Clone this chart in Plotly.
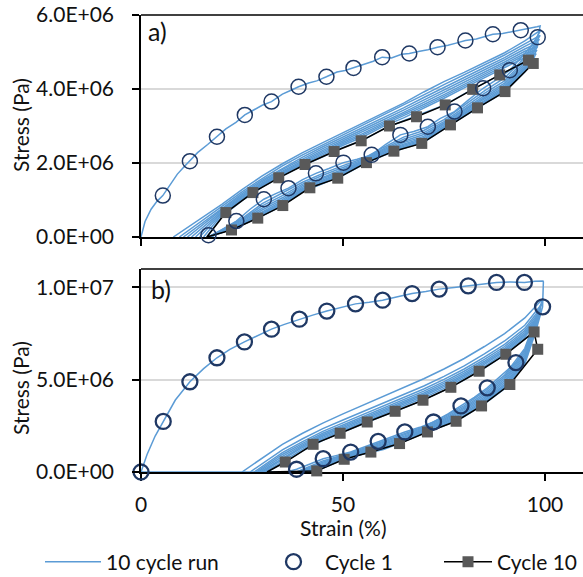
import plotly.graph_objects as go

# ---------------- data (strain in %, stress in MPa) ----------------
# Panel a) cycle 1 (continuous trace of the 10 cycle run)
A_C1_LOAD_STRAIN = [0, 1, 2.5, 4, 5.4, 7, 9, 10.5, 12.1, 14, 16.5, 18.8, 21, 23.5, 25.7, 28, 30, 32.3, 35, 37,
                    39, 41.5, 43.5, 45.9, 48.5, 50.5, 52.6, 55, 57.5, 59.7, 62, 64.5, 66.4, 69, 71, 73.4, 76, 78,
                    80.3, 83, 85, 87.1, 89.5, 92, 94, 96, 98, 98.8]
A_C1_LOAD_STRESS = [0, 0.42, 0.75, 0.97, 1.12, 1.38, 1.7, 1.88, 2.05, 2.28, 2.5, 2.71, 2.92, 3.1, 3.3, 3.44, 3.56,
                    3.66, 3.86, 3.96, 4.06, 4.16, 4.22, 4.33, 4.46, 4.5, 4.57, 4.66, 4.75, 4.86, 4.84, 4.94, 4.96,
                    5.02, 5.06, 5.13, 5.18, 5.24, 5.31, 5.35, 5.42, 5.48, 5.5, 5.55, 5.59, 5.62, 5.68, 5.7]
A_C1_UNLOAD_STRAIN = [98.8, 98.2, 96.5, 94, 91.3, 88, 84.7, 81, 77.6, 74, 71, 67.5, 64.2, 60.5, 57.1, 53.5, 50.1,
                      46.5, 43.3, 40, 36.5, 33.5, 30.4, 27, 23.6, 20, 16.7]
A_C1_UNLOAD_STRESS = [5.7, 5.4, 5.15, 4.85, 4.51, 4.25, 4.02, 3.7, 3.39, 3.2, 2.98, 2.85, 2.76, 2.5, 2.22, 2.1, 2.01,
                      1.85, 1.72, 1.55, 1.32, 1.18, 1.02, 0.75, 0.43, 0.2, 0.0]

# Panel a) cycles 2..10
A_START = [8.0, 9.5, 10.5, 11.5, 12.5, 13.5, 14.5, 15.5, 16.3]
A_LOAD_GRID = [20, 25, 30, 35, 40, 45, 50, 55, 60, 65, 70, 75, 80, 85, 90, 95]
A_LOAD = [
    [0.88, 1.28, 1.65, 1.98, 2.28, 2.55, 2.82, 3.08, 3.35, 3.62, 3.92, 4.20, 4.45, 4.72, 4.98, 5.30],
    [0.82, 1.22, 1.58, 1.92, 2.22, 2.49, 2.76, 3.02, 3.28, 3.55, 3.84, 4.12, 4.38, 4.65, 4.92, 5.22],
    [0.78, 1.17, 1.54, 1.86, 2.16, 2.44, 2.70, 2.96, 3.22, 3.49, 3.77, 4.05, 4.31, 4.58, 4.85, 5.15],
    [0.74, 1.13, 1.50, 1.82, 2.11, 2.39, 2.65, 2.90, 3.17, 3.43, 3.70, 3.98, 4.25, 4.52, 4.79, 5.08],
    [0.70, 1.10, 1.46, 1.78, 2.07, 2.34, 2.60, 2.85, 3.12, 3.37, 3.64, 3.91, 4.19, 4.46, 4.73, 5.02],
    [0.67, 1.07, 1.43, 1.75, 2.03, 2.30, 2.56, 2.80, 3.07, 3.32, 3.58, 3.85, 4.13, 4.41, 4.68, 4.96],
    [0.64, 1.04, 1.40, 1.72, 2.00, 2.26, 2.52, 2.76, 3.03, 3.27, 3.53, 3.80, 4.08, 4.36, 4.63, 4.91],
    [0.61, 1.01, 1.38, 1.69, 1.97, 2.22, 2.48, 2.71, 2.99, 3.22, 3.48, 3.75, 4.03, 4.31, 4.58, 4.85],
    [0.55, 0.98, 1.35, 1.65, 1.93, 2.17, 2.42, 2.62, 2.92, 3.14, 3.34, 3.56, 3.87, 4.17, 4.45, 4.73],
]
A_PEAK_STRAIN = [99.0, 98.8, 98.6, 98.4, 98.2, 98.0, 97.8, 97.5, 97.1]
A_PEAK_STRESS = [5.6, 5.45, 5.35, 5.25, 5.15, 5.05, 4.95, 4.88, 4.8]
A_UNLOAD_GRID = [95, 90, 85, 80, 75, 70, 65, 60, 55, 50, 45, 40, 35, 30, 25, 20]
A_UNLOAD = [
    [4.85, 4.30, 3.95, 3.55, 3.17, 2.88, 2.70, 2.42, 2.12, 1.93, 1.72, 1.48, 1.18, 0.90, 0.50, 0.20],
    [4.78, 4.22, 3.88, 3.50, 3.12, 2.82, 2.64, 2.38, 2.09, 1.88, 1.67, 1.43, 1.12, 0.84, 0.47, 0.18],
    [4.72, 4.16, 3.82, 3.46, 3.08, 2.77, 2.59, 2.35, 2.06, 1.83, 1.62, 1.39, 1.06, 0.78, 0.44, 0.17],
    [4.66, 4.11, 3.77, 3.42, 3.05, 2.72, 2.55, 2.32, 2.04, 1.79, 1.58, 1.35, 1.01, 0.73, 0.41, 0.16],
    [4.61, 4.06, 3.73, 3.38, 3.02, 2.68, 2.51, 2.29, 2.02, 1.76, 1.54, 1.31, 0.97, 0.68, 0.38, 0.15],
    [4.57, 4.02, 3.69, 3.35, 2.99, 2.64, 2.48, 2.26, 2.00, 1.73, 1.51, 1.28, 0.93, 0.64, 0.36, 0.14],
    [4.53, 3.98, 3.66, 3.32, 2.97, 2.61, 2.45, 2.24, 1.98, 1.70, 1.48, 1.25, 0.90, 0.61, 0.34, 0.13],
    [4.49, 3.95, 3.63, 3.29, 2.94, 2.58, 2.42, 2.22, 1.97, 1.68, 1.46, 1.23, 0.87, 0.59, 0.33, 0.12],
    [4.46, 3.92, 3.60, 3.27, 2.92, 2.56, 2.40, 2.20, 1.96, 1.67, 1.45, 1.22, 0.85, 0.57, 0.32, 0.12],
]
A_END = [17.0, 17.5, 17.0, 16.5, 17.0, 16.8, 16.5, 17.0, 16.3]

# Panel a) markers
A_CIRC_STRAIN = [5.4, 12.1, 18.8, 25.7, 32.3, 39.0, 45.9, 52.6, 59.7, 66.4, 73.4, 80.3, 87.1, 94.0, 98.2,
                 91.3, 84.7, 77.6, 71.0, 64.2, 57.1, 50.1, 43.3, 36.5, 30.4, 23.6, 16.7]
A_CIRC_STRESS = [1.12, 2.05, 2.71, 3.30, 3.66, 4.06, 4.33, 4.57, 4.86, 4.96, 5.13, 5.31, 5.48, 5.59, 5.40,
                 4.51, 4.02, 3.39, 2.98, 2.76, 2.22, 2.01, 1.72, 1.32, 1.02, 0.43, 0.05]
A_SQ_STRAIN = [21.0, 27.7, 34.1, 40.6, 47.8, 54.5, 61.5, 68.2, 75.3, 82.1, 88.8, 95.9, 97.1,
               90.1, 83.3, 76.6, 69.5, 62.6, 55.8, 48.7, 41.8, 35.1, 28.9, 22.4]
A_SQ_STRESS = [0.66, 1.20, 1.60, 1.96, 2.31, 2.60, 3.00, 3.25, 3.57, 3.99, 4.38, 4.78, 4.69,
               3.93, 3.49, 3.03, 2.53, 2.32, 2.01, 1.59, 1.33, 0.85, 0.51, 0.19]
A_C10_ORIGIN = 16.3

# Panel b) cycle 1
B_C1_LOAD_STRAIN = [0, 1.5, 3.5, 5.5, 8.5, 12.1, 15.5, 18.8, 22, 25.6, 29, 32.3, 35.5, 39.2, 42.5, 46, 49.5,
                    53.1, 56.5, 59.8, 63.5, 67.1, 70.5, 73.8, 77.5, 81, 84.5, 88, 91.5, 94.9, 97.5, 99.5]
B_C1_LOAD_STRESS = [0, 0.95, 1.95, 2.74, 3.9, 4.89, 5.6, 6.19, 6.65, 7.05, 7.42, 7.74, 8.0, 8.28, 8.5, 8.72,
                    8.9, 9.11, 9.2, 9.31, 9.5, 9.67, 9.78, 9.91, 10.0, 10.09, 10.18, 10.27, 10.3, 10.27, 10.33, 10.35]
B_C1_UNLOAD_STRAIN = [99.6, 99.4, 97.5, 95, 92.8, 89, 85.7, 82.5, 79.2, 76, 72.4, 69, 65.3, 62, 58.7, 55.5,
                      51.9, 48.5, 45.1, 42, 38.5, 36, 0]
B_C1_UNLOAD_STRESS = [10.3, 8.95, 7.45, 6.6, 5.93, 5.2, 4.56, 4.05, 3.58, 3.15, 2.71, 2.42, 2.17, 1.9, 1.66,
                      1.38, 1.08, 0.9, 0.72, 0.45, 0.15, 0.0, 0.0]

# Panel b) cycles 2..10
B_START = [25.0, 27.0, 28.0, 28.5, 29.0, 29.5, 30.0, 30.5, 31.2]
B_LOAD_GRID = [35, 40, 45, 50, 55, 60, 65, 70, 75, 80, 85, 90, 95]
B_LOAD = [
    [1.50, 2.10, 2.65, 3.15, 3.62, 4.08, 4.55, 5.05, 5.58, 6.15, 6.80, 7.50, 8.35],
    [1.20, 1.80, 2.35, 2.82, 3.28, 3.72, 4.18, 4.66, 5.18, 5.75, 6.40, 7.10, 7.95],
    [1.05, 1.65, 2.20, 2.66, 3.12, 3.56, 4.02, 4.50, 5.02, 5.58, 6.22, 6.92, 7.78],
    [0.95, 1.55, 2.10, 2.55, 3.01, 3.45, 3.90, 4.38, 4.90, 5.46, 6.10, 6.80, 7.66],
    [0.85, 1.47, 2.02, 2.47, 2.92, 3.36, 3.81, 4.28, 4.80, 5.36, 6.00, 6.70, 7.56],
    [0.75, 1.40, 1.95, 2.40, 2.85, 3.28, 3.73, 4.20, 4.71, 5.27, 5.91, 6.61, 7.47],
    [0.65, 1.33, 1.88, 2.33, 2.78, 3.21, 3.66, 4.12, 4.63, 5.19, 5.83, 6.53, 7.39],
    [0.55, 1.24, 1.80, 2.25, 2.70, 3.13, 3.56, 4.02, 4.53, 5.10, 5.73, 6.44, 7.30],
    [0.46, 1.15, 1.72, 2.16, 2.62, 3.05, 3.47, 3.91, 4.42, 5.00, 5.63, 6.34, 7.20],
]
B_PEAK_STRAIN = [99.5, 99.2, 99.0, 98.9, 98.8, 98.6, 98.5, 98.4, 98.0]
B_PEAK_STRESS = [9.4, 9.1, 8.9, 8.75, 8.6, 8.5, 8.4, 8.3, 7.8]
B_UNLOAD_GRID = [95, 90, 85, 80, 75, 70, 65, 60, 55, 50, 45]
B_UNLOAD = [
    [6.70, 5.25, 4.35, 3.60, 3.00, 2.45, 2.06, 1.66, 1.27, 0.92, 0.60],
    [6.55, 5.15, 4.25, 3.52, 2.93, 2.40, 2.00, 1.60, 1.22, 0.88, 0.53],
    [6.45, 5.05, 4.15, 3.45, 2.86, 2.35, 1.93, 1.54, 1.17, 0.84, 0.47],
    [6.35, 4.95, 4.06, 3.38, 2.80, 2.30, 1.87, 1.48, 1.12, 0.80, 0.42],
    [6.25, 4.85, 3.98, 3.30, 2.74, 2.25, 1.81, 1.42, 1.08, 0.77, 0.37],
    [6.15, 4.75, 3.90, 3.22, 2.68, 2.20, 1.75, 1.36, 1.05, 0.74, 0.32],
    [6.05, 4.67, 3.83, 3.15, 2.62, 2.16, 1.70, 1.30, 1.02, 0.71, 0.28],
    [5.95, 4.60, 3.76, 3.07, 2.56, 2.13, 1.66, 1.26, 0.99, 0.69, 0.24],
    [5.85, 4.52, 3.69, 3.00, 2.50, 2.10, 1.63, 1.22, 0.97, 0.67, 0.20],
]
B_END = [38.5, 39.0, 39.5, 40.0, 40.5, 41.5, 42.0, 42.5, 43.0]

# Panel b) markers
B_CIRC_STRAIN = [0, 5.5, 12.1, 18.8, 25.6, 32.3, 39.2, 46.0, 53.1, 59.8, 67.1, 73.8, 81.0, 88.0, 94.9, 99.4,
                 92.8, 85.7, 79.2, 72.4, 65.3, 58.7, 51.9, 45.1, 38.5]
B_CIRC_STRESS = [0, 2.74, 4.89, 6.19, 7.05, 7.74, 8.28, 8.72, 9.11, 9.31, 9.67, 9.91, 10.09, 10.27, 10.27, 8.95,
                 5.93, 4.56, 3.58, 2.71, 2.17, 1.66, 1.08, 0.72, 0.15]
B_SQ_STRAIN = [35.7, 42.6, 49.3, 56.0, 62.9, 69.8, 76.7, 83.7, 90.3, 97.3,
               98.2, 91.3, 84.3, 78.0, 70.9, 64.0, 56.9, 50.3, 43.5]
B_SQ_STRESS = [0.54, 1.50, 2.10, 2.71, 3.29, 3.89, 4.59, 5.46, 6.38, 7.59,
               6.65, 4.74, 3.58, 2.75, 2.17, 1.54, 1.08, 0.69, 0.06]
B_C10_ORIGIN = 31.2

# Axis ticks
X_TICKS = [0, 50, 100]
X_TICKTEXT = ["0", "50", "100"]
A_YTICKS = [0, 2e6, 4e6, 6e6]
A_YTICKTEXT = ["0.0E+00", "2.0E+06", "4.0E+06", "6.0E+06"]
B_YTICKS = [0, 5e6, 1e7]
B_YTICKTEXT = ["0.0E+00", "5.0E+06", "1.0E+07"]

NAMES = ["10 cycle run", "Cycle 1", "Cycle 10"]

# ---------------- styling ----------------
FONT = "Lato"
FS = 21
TXT = "#111111"
BLUE = "#5B9BD5"
NAVY = "#1F3864"
GREY = "#595959"
MPA = 1e6

fig = go.Figure()


def pa(vals):
    return [v * MPA for v in vals]


def add_panel(xa, ya, c1_ls, c1_lp, c1_us, c1_up, starts, lgrid, load, pks, pkp, ugrid, unload, ends,
              cs, cp, ss, sp, origin, legend_on, circ_lw):
    fig.add_trace(go.Scatter(x=c1_ls + c1_us, y=pa(c1_lp + c1_up), mode="lines",
                             line=dict(color=BLUE, width=1.5), name=NAMES[0], legend="legend",
                             showlegend=legend_on, xaxis=xa, yaxis=ya, hoverinfo="skip"))
    for i in range(len(starts)):
        xs = [starts[i]] + lgrid + [pks[i]] + ugrid + [ends[i]]
        ys = [0] + load[i] + [pkp[i]] + unload[i] + [0]
        fig.add_trace(go.Scatter(x=xs, y=pa(ys), mode="lines", line=dict(color=BLUE, width=1.5),
                                 showlegend=False, xaxis=xa, yaxis=ya, hoverinfo="skip"))
    # closing segment of the cycle-10 loop
    fig.add_trace(go.Scatter(x=[ss[-1], origin, ss[0]], y=pa([sp[-1], 0, sp[0]]), mode="lines",
                             line=dict(color="black", width=1.5), showlegend=False,
                             xaxis=xa, yaxis=ya, cliponaxis=False))
    fig.add_trace(go.Scatter(x=ss, y=pa(sp), mode="lines+markers", name=NAMES[2], legend="legend3",
                             line=dict(color="black", width=1.5),
                             marker=dict(symbol="square", size=11, color=GREY),
                             showlegend=legend_on, xaxis=xa, yaxis=ya, cliponaxis=False))
    fig.add_trace(go.Scatter(x=cs, y=pa(cp), mode="markers", name=NAMES[1], legend="legend2",
                             marker=dict(symbol="circle-open", size=15, color=NAVY,
                                         line=dict(width=circ_lw, color=NAVY)),
                             showlegend=legend_on, xaxis=xa, yaxis=ya, cliponaxis=False))


add_panel("x", "y", A_C1_LOAD_STRAIN, A_C1_LOAD_STRESS, A_C1_UNLOAD_STRAIN, A_C1_UNLOAD_STRESS,
          A_START, A_LOAD_GRID, A_LOAD, A_PEAK_STRAIN, A_PEAK_STRESS, A_UNLOAD_GRID, A_UNLOAD, A_END,
          A_CIRC_STRAIN, A_CIRC_STRESS, A_SQ_STRAIN, A_SQ_STRESS, A_C10_ORIGIN, False, 1.5)
add_panel("x2", "y2", B_C1_LOAD_STRAIN, B_C1_LOAD_STRESS, B_C1_UNLOAD_STRAIN, B_C1_UNLOAD_STRESS,
          B_START, B_LOAD_GRID, B_LOAD, B_PEAK_STRAIN, B_PEAK_STRESS, B_UNLOAD_GRID, B_UNLOAD, B_END,
          B_CIRC_STRAIN, B_CIRC_STRESS, B_SQ_STRAIN, B_SQ_STRESS, B_C10_ORIGIN, True, 2.3)

# The page body margin is removed (see post_script), so positions are window pixels.
W, H = 583, 577
ML, MR, MT, MB = 141, 0, 15, 577 - 472
PH = H - MT - MB
PW = W - ML - MR
XMAX = PW / 4.04


def px_x(p):
    return (p - ML) / PW


def px_y(p):
    return (H - MB - p) / PH


tick_font = dict(family=FONT, size=FS, color=TXT)
common_x = dict(range=[0, XMAX], tickvals=X_TICKS, ticktext=X_TICKTEXT, showgrid=False, zeroline=False,
                showline=True, linecolor="black", linewidth=1.5, ticks="outside", ticklen=7,
                tickcolor="black", tickwidth=1.5, layer="below traces", automargin=False,
                ticklabeloverflow="allow", tickfont=tick_font)
common_y = dict(showgrid=True, gridcolor="#D9D9D9", gridwidth=1.5, zeroline=False,
                showline=True, linecolor="black", linewidth=1.5, ticks="outside", ticklen=7,
                tickcolor="black", tickwidth=1.5, ticklabelstandoff=14, automargin=False,
                ticklabeloverflow="allow", tickfont=tick_font)


def legend_at(x, anchor, iw):
    return dict(orientation="h", x=x, xanchor=anchor, y=px_y(562), yanchor="middle",
                font=dict(family=FONT, size=FS, color=TXT), itemwidth=iw,
                bgcolor="rgba(0,0,0,0)", borderwidth=0)


fig.update_layout(
    template="none",
    width=W, height=H,
    margin=dict(l=ML, r=MR, t=MT, b=MB, autoexpand=False),
    paper_bgcolor="white", plot_bgcolor="white",
    font=dict(family=FONT, size=FS, color=TXT),
    xaxis=dict(common_x, domain=[0, 1], anchor="y", showticklabels=False, matches="x2"),
    yaxis=dict(common_y, domain=[px_y(237), 1], anchor="x", range=[0, 6e6],
               tickvals=A_YTICKS, ticktext=A_YTICKTEXT),
    xaxis2=dict(common_x, domain=[0, 1], anchor="y2", ticklabelstandoff=6),
    yaxis2=dict(common_y, domain=[0, px_y(269)], anchor="x2", range=[0, 1.1e7],
                tickvals=B_YTICKS, ticktext=B_YTICKTEXT),
    showlegend=True,
    legend=legend_at(px_x(40), "left", 56),
    legend2=legend_at(px_x(262), "left", 53),
    legend3=legend_at(1.0, "right", 48),
    shapes=[
        dict(type="line", xref="x domain", yref="y domain", x0=0, x1=1, y0=1, y1=1,
             line=dict(color="black", width=1.5)),
        dict(type="line", xref="x2 domain", yref="y2 domain", x0=0, x1=1, y0=1, y1=1,
             line=dict(color="black", width=1.5)),
    ],
    annotations=[
        dict(text="Stress (Pa)", textangle=-90, xref="paper", yref="paper",
             x=px_x(20), y=px_y(125), showarrow=False, xanchor="center", yanchor="middle",
             font=dict(family=FONT, size=FS, color=TXT)),
        dict(text="Stress (Pa)", textangle=-90, xref="paper", yref="paper",
             x=px_x(20), y=px_y(388), showarrow=False, xanchor="center", yanchor="middle",
             font=dict(family=FONT, size=FS, color=TXT)),
        dict(text="Strain (%)", xref="x2", yref="paper", x=50, y=px_y(527),
             showarrow=False, xanchor="center", yanchor="middle",
             font=dict(family=FONT, size=FS, color=TXT)),
        dict(text="a)", xref="paper", yref="paper", x=px_x(146), y=px_y(31),
             showarrow=False, xanchor="left", yanchor="middle",
             font=dict(family=FONT, size=25, color=TXT)),
        dict(text="b)", xref="paper", yref="paper", x=px_x(149), y=px_y(289),
             showarrow=False, xanchor="left", yanchor="middle",
             font=dict(family=FONT, size=25, color=TXT)),
    ],
)

fig.write_html("out.html", config={"displayModeBar": False},
               post_script="document.body.style.margin='0';document.body.style.overflow='hidden';")
